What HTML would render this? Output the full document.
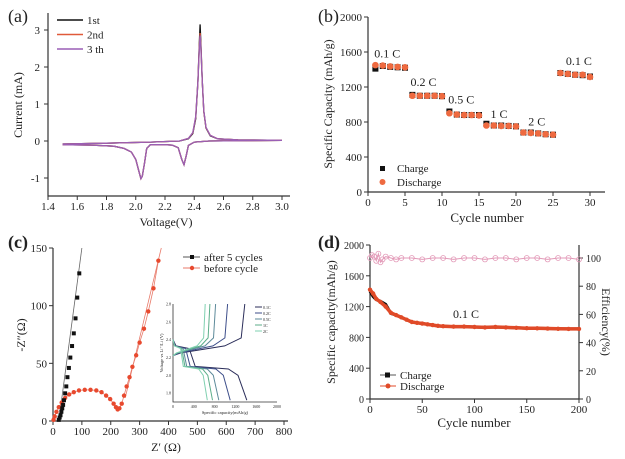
<!DOCTYPE html>
<html><head><meta charset="utf-8"><style>
body{margin:0;background:#fff;}
svg{display:block;font-family:"Liberation Serif",serif;}
</style></head><body>
<svg id="fig" width="625" height="459" viewBox="0 0 625 459"></svg>
<script>
// ---- Panel (a) CV data ----
const cvCathV=[3.0,2.5,2.4,2.36,2.345,2.33,2.315,2.29,2.25,2.2,2.1,2.075,2.06,2.045,2.035,2.02,2.0,1.97,1.92,1.85,1.7,1.5];
const cvCathI=[0.02,0.0,-0.03,-0.12,-0.4,-0.64,-0.5,-0.18,-0.11,-0.1,-0.1,-0.2,-0.6,-0.95,-1.02,-0.8,-0.5,-0.3,-0.2,-0.14,-0.11,-0.1];
const cvAnV=[1.5,1.8,2.1,2.3,2.36,2.39,2.41,2.425,2.435,2.44,2.445,2.455,2.465,2.48,2.51,2.56,2.7,3.0];
const cvAn1=[-0.08,-0.06,-0.03,0.0,0.06,0.2,0.6,1.6,2.7,3.15,2.7,1.6,0.8,0.35,0.14,0.06,0.03,0.02];
const cvAn2=[-0.08,-0.06,-0.03,0.0,0.07,0.22,0.65,1.6,2.6,2.92,2.6,1.6,0.8,0.36,0.15,0.06,0.03,0.02];
const cvAn3=[-0.08,-0.06,-0.03,0.0,0.07,0.23,0.66,1.6,2.55,2.85,2.55,1.6,0.82,0.37,0.15,0.06,0.03,0.02];
const aXTicks=[1.4,1.6,1.8,2.0,2.2,2.4,2.6,2.8,3.0];
const aYTicks=[-1,0,1,2,3];
// ---- Panel (b) rate data ----
const bCycles=[1,2,3,4,5,6,7,8,9,10,11,12,13,14,15,16,17,18,19,20,21,22,23,24,25,26,27,28,29,30];
const bCharge=[1410,1440,1430,1425,1420,1110,1100,1100,1100,1095,920,885,880,880,880,780,760,760,755,750,680,680,670,660,655,1360,1350,1340,1335,1320];
const bDischarge=[1450,1445,1435,1430,1425,1100,1100,1100,1100,1095,900,885,880,880,875,760,760,755,755,750,680,675,670,660,655,1360,1350,1340,1340,1315];
const bXTicks=[0,5,10,15,20,25,30];
const bYTicks=[0,400,800,1200,1600,2000];
const bRates=["0.1 C","0.2 C","0.5 C","1 C","2 C","0.1 C"];
const bRateX=[2.6,7.5,12.6,17.7,22.8,28.5];
const bRateY=[1540,1210,1010,845,760,1450];
// ---- Panel (c) EIS data ----
const cAfterX=[20,23,26,29,32,35,38,42,46,50,55,60,66,72,78,84,91];
const cAfterY=[1,3,5,8,11,14,18,24,30,38,46,55,65,76,89,107,128];
const cBeforeX=[2,6,12,20,30,42,56,72,90,110,130,150,168,184,198,210,218,224,230,238,246,255,265,275,288,300,315,330,348,365];
const cBeforeY=[1,4,8,12,16,20,23,25,26.5,27,27,26.5,25,22,19,15,12,10,11,15,22,30,38,47,57,68,80,95,115,139];
const cXTicks=[0,100,200,300,400,500,600,700,800];
const cYTicks=[0,50,100,150];
// inset
const inRates=["0.1C","0.2C","0.5C","1C","2C"];
const inDisEnd=[1420,1100,880,760,660];
const inChgEnd=[1380,1050,820,710,620];
const inYTicks=[1.8,2.0,2.2,2.4,2.6,2.8];
const inXTicks=[0,400,800,1200,1600,2000];
// ---- Panel (d) cycling ----
const dCycles=[0,3,6,10,15,20,25,30,35,40,45,50,55,60,65,70,80,90,100,110,120,130,140,150,160,170,180,190,200];
const dCharge=[1400,1330,1290,1270,1230,1110,1090,1060,1030,1000,990,980,970,960,950,945,940,940,935,930,935,930,925,920,918,915,912,910,910];
const dDischarge=[1420,1370,1300,1260,1200,1120,1090,1060,1030,1000,990,980,970,960,950,945,940,940,935,930,935,930,925,920,918,915,912,910,910];
const dEffCycles=[0,2,4,6,8,10,12,15,20,25,30,40,50,60,70,80,90,100,110,120,130,140,150,160,170,180,190,200];
const dEff=[100,102,101,98,103,97,99,101,100,99,100,100,99,100,100,99,100,100,99,100,100,99,100,100,99,100,100,99];
const dXTicks=[0,50,100,150,200];
const dYTicks=[0,400,800,1200,1600,2000];
const dY2Ticks=[0,20,40,60,80,100];

const svg=document.getElementById('fig');
const NS='http://www.w3.org/2000/svg';
function el(tag,attrs,parent){const e=document.createElementNS(NS,tag);for(const k in attrs)e.setAttribute(k,attrs[k]);(parent||svg).appendChild(e);return e;}
function txt(s,x,y,size,anchor,parent,extra){const t=el('text',Object.assign({x:x,y:y,'font-size':size,'text-anchor':anchor||'middle',fill:'#222'},extra||{}),parent);t.textContent=s;return t;}
function lin(d0,d1,r0,r1){return v=>r0+(v-d0)/(d1-d0)*(r1-r0);}
function pathFrom(xs,ys,sx,sy){return xs.map((v,i)=>(i?'L':'M')+sx(v).toFixed(1)+','+sy(ys[i]).toFixed(1)).join('');}
function axes(g,x0,x1,y0,y1){el('path',{d:`M${x0},${y0}V${y1}H${x1}`,stroke:'#333','stroke-width':1.2,fill:'none'},g);}

// ===== (a) =====
let g=el('g',{});


let sx=lin(1.4,3.0,48,282), sy=lin(0,3,141,30);
axes(g,48,290,13,196);
aXTicks.forEach(v=>{el('line',{x1:sx(v),x2:sx(v),y1:196,y2:200,stroke:'#333'},g);txt(v.toFixed(1),sx(v),210,11,'middle',g);});
aYTicks.forEach(v=>{el('line',{x1:44,x2:48,y1:sy(v),y2:sy(v),stroke:'#333'},g);txt(String(v),40,sy(v)+4,11,'end',g);});
txt('Voltage(V)',166,226,12,'middle',g);
let yl=txt('Current (mA)',22,105,12,'middle',g,{transform:'rotate(-90 22 105)'});
txt('(a)',8,22,18,'start',g);
const cols=['#111','#e05a3a','#9a5fb5'];
[cvAn1,cvAn2,cvAn3].forEach((arr,i)=>{
 let p=el('path',{d:pathFrom(cvAnV,arr,sx,sy)+pathFrom(cvCathV,cvCathI,sx,sy).replace('M','L'),stroke:cols[i],'stroke-width':1.3,fill:'none'},g);
 
 
});
['1st','2nd','3 th'].forEach((s,i)=>{const y=20+i*14.5;el('line',{x1:57,x2:83,y1:y,y2:y,stroke:cols[i],'stroke-width':1.5},g);txt(s,87,y+4,11,'start',g);});

// ===== (b) =====
g=el('g',{});


sx=lin(0,30,368,590); sy=lin(0,2000,192,17);
axes(g,368,605,17,192);
bXTicks.forEach(v=>{el('line',{x1:sx(v),x2:sx(v),y1:192,y2:196,stroke:'#333'},g);txt(String(v),sx(v),206,11,'middle',g);});
bYTicks.forEach(v=>{el('line',{x1:364,x2:368,y1:sy(v),y2:sy(v),stroke:'#333'},g);txt(String(v),362,sy(v)+4,11,'end',g);});
txt('Cycle number',487,222,13,'middle',g);
txt('Specific Capacity (mAh/g)',332,104,12,'middle',g,{transform:'rotate(-90 332 104)'});
txt('(b)',318,22,18,'start',g);
bCycles.forEach((c,i)=>{
 let r=el('rect',{x:sx(c)-3,y:sy(bCharge[i])-3,width:6,height:6,fill:'#111'},g);
 
 
 let ci=el('circle',{cx:sx(c),cy:sy(bDischarge[i]),r:3.3,fill:'#ee6a40'},g);
 
 
});
bRates.forEach((s,i)=>txt(s,sx(bRateX[i]),sy(bRateY[i]),12,'middle',g));
el('rect',{x:380,y:166,width:5,height:5,fill:'#111'},g);txt('Charge',397,172,11,'start',g);
el('circle',{cx:382.5,cy:182,r:3,fill:'#ee6a40'},g);txt('Discharge',397,186,11,'start',g);

// ===== (c) =====
g=el('g',{});


sx=lin(0,800,53,284); sy=lin(0,150,421,248);
axes(g,53,288,248,421);
cXTicks.forEach(v=>{el('line',{x1:sx(v),x2:sx(v),y1:421,y2:425,stroke:'#333'},g);txt(String(v),sx(v),435,11,'middle',g);});
cYTicks.forEach(v=>{el('line',{x1:49,x2:53,y1:sy(v),y2:sy(v),stroke:'#333'},g);txt(String(v),47,sy(v)+4,11,'end',g);});
txt('Z\u2032 (\u03A9)',166,451,12,'middle',g);
txt('-Z\u2033(\u03A9)',25,335,12,'middle',g,{transform:'rotate(-90 25 335)'});
txt('(c)',8,248,18,'start',g,{'font-weight':'bold'});
el('line',{x1:sx(20),y1:sy(0),x2:sx(100),y2:sy(150),stroke:'#666','stroke-width':0.8},g);
el('line',{x1:sx(250),y1:sy(20),x2:sx(375),y2:sy(150),stroke:'#e87a6a','stroke-width':0.8},g);
el('path',{d:pathFrom(cBeforeX,cBeforeY,sx,sy),stroke:'#e87a6a','stroke-width':0.8,fill:'none'},g);
cBeforeX.forEach((v,i)=>{let c=el('circle',{cx:sx(v),cy:sy(cBeforeY[i]),r:2.2,fill:'#e8492e'},g);});
cAfterX.forEach((v,i)=>{let c=el('rect',{x:sx(v)-2,y:sy(cAfterY[i])-2,width:4,height:4,fill:'#111'},g);});
el('line',{x1:183,x2:200,y1:257,y2:257,stroke:'#555'},g);el('rect',{x:190,y:255,width:4,height:4,fill:'#111'},g);txt('after 5 cycles',204,261,11,'start',g);
el('line',{x1:183,x2:200,y1:268,y2:268,stroke:'#e87a6a'},g);el('circle',{cx:192,cy:268,r:2.2,fill:'#e8492e'},g);txt('before cycle',204,272,11,'start',g);
// inset
let ig=el('g',{},g);


const ix=lin(0,2000,173,277), iy=lin(1.7,2.8,402,304);
el('path',{d:'M173,304V402H277',stroke:'#333','stroke-width':0.8,fill:'none'},ig);
inXTicks.forEach(v=>txt(String(v),ix(v),408,4,'middle',ig));
inYTicks.forEach(v=>txt(v.toFixed(1),171,iy(v)+1.5,4,'end',ig));
txt('Specific capacity(mAh/g)',225,414,4.5,'middle',ig);
txt('Voltage vs Li\u207A/Li (V)',163,353,4.5,'middle',ig,{transform:'rotate(-90 163 353)'});
const icol=['#2b2e5a','#3d4e8a','#5d8a9a','#5cae8a','#7fd0b0'];
inDisEnd.forEach((e,i)=>{
 const d=[[0,2.4],[e*0.04,2.33],[e*0.22,2.3],[e*0.3,2.1],[e*0.75,2.07],[e*0.88,2.0],[e,1.72]];
 const c=[[0,2.22],[e*0.1,2.25],[e*0.7,2.33],[inChgEnd[i]*0.95,2.42],[inChgEnd[i],2.8]];
 const pd=d.map((p,j)=>(j?'L':'M')+ix(p[0]).toFixed(1)+','+iy(p[1]).toFixed(1)).join('');
 const pc=c.map((p,j)=>(j?'L':'M')+ix(p[0]).toFixed(1)+','+iy(p[1]).toFixed(1)).join('');
 let a=el('path',{d:pd+pc,stroke:icol[i],'stroke-width':1,fill:'none'},ig);
 
 
 el('line',{x1:255,x2:262,y1:307+i*6,y2:307+i*6,stroke:icol[i]},ig);
 txt(inRates[i],263,309+i*6,4,'start',ig);
});

// ===== (d) =====
g=el('g',{});


sx=lin(0,200,370,579); sy=lin(0,2000,399,245);
const sy2=lin(0,100,399,258);
el('path',{d:'M370,245V399H579V245',stroke:'#333','stroke-width':1.2,fill:'none'},g);
dXTicks.forEach(v=>{el('line',{x1:sx(v),x2:sx(v),y1:399,y2:403,stroke:'#333'},g);txt(String(v),sx(v),413,11,'middle',g);});
dYTicks.forEach(v=>{el('line',{x1:366,x2:370,y1:sy(v),y2:sy(v),stroke:'#333'},g);txt(String(v),364,sy(v)+4,10,'end',g);});
dY2Ticks.forEach(v=>{el('line',{x1:579,x2:583,y1:sy2(v),y2:sy2(v),stroke:'#333'},g);txt(String(v),586,sy2(v)+4,10,'start',g);});
txt('Cycle number',474,427,13,'middle',g);
txt('Specific capacity(mAh/g)',335,322,12,'middle',g,{transform:'rotate(-90 335 322)'});
txt('Efficiency(%)',602,322,12,'middle',g,{transform:'rotate(90 602 322)'});
txt('(d)',318,248,18,'start',g,{'font-weight':'bold'});
let ep=el('path',{d:pathFrom(dEffCycles,dEff,sx,sy2),stroke:'#e39ab8','stroke-width':1,fill:'none'},g);


dEffCycles.forEach((c,i)=>el('circle',{cx:sx(c),cy:sy2(dEff[i]),r:2.5,fill:'none',stroke:'#e39ab8','stroke-width':0.8},g));
let cp=el('path',{d:pathFrom(dCycles,dCharge,sx,sy),stroke:'#111','stroke-width':3,fill:'none'},g);


let dp=el('path',{d:pathFrom(dCycles,dDischarge,sx,sy),stroke:'#e04a28','stroke-width':3.5,fill:'none'},g);


dCycles.forEach((c,i)=>el('circle',{cx:sx(c),cy:sy(dDischarge[i]),r:2.2,fill:'#e04a28'},g));
txt('0.1 C',466,318,12,'middle',g);
el('line',{x1:380,x2:396,y1:375,y2:375,stroke:'#555'},g);el('rect',{x:385,y:372.5,width:5,height:5,fill:'#111'},g);txt('Charge',400,379,11,'start',g);
el('line',{x1:380,x2:396,y1:386,y2:386,stroke:'#e04a28'},g);el('circle',{cx:388,cy:386,r:2.5,fill:'#e04a28'},g);txt('Discharge',400,390,11,'start',g);
</script>
</body></html>
